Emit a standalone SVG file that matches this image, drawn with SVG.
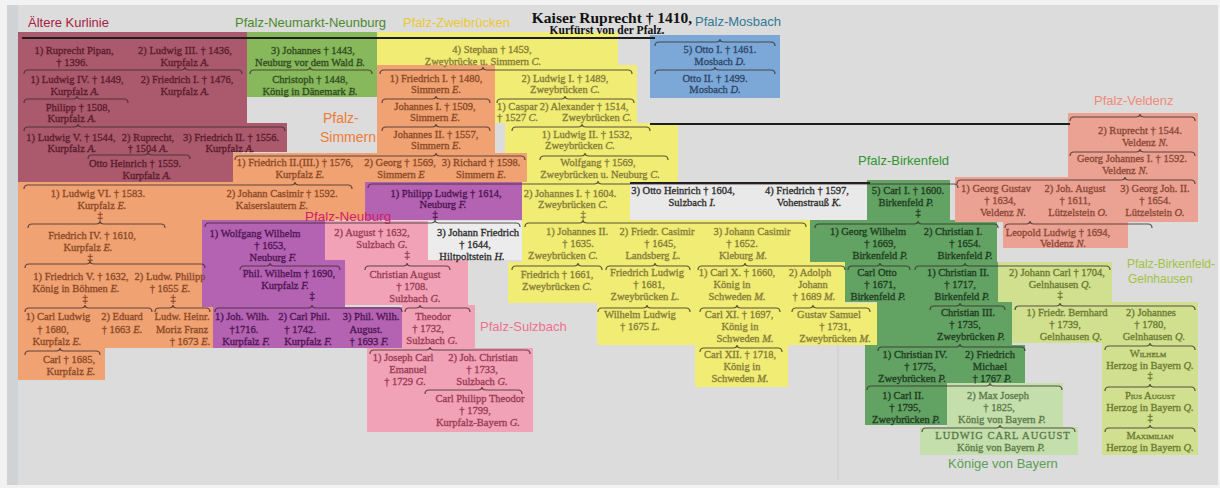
<svg xmlns="http://www.w3.org/2000/svg" width="1220" height="488" viewBox="0 0 1220 488">
<style>
.t{font-family:"Liberation Serif","Times New Roman",serif;font-size:10.5px;text-anchor:middle;stroke-width:.3}
.s{text-anchor:start}
.i{font-style:italic}
.lb{font-family:"Liberation Sans",Arial,sans-serif;font-size:13px}
.br{fill:none;stroke:#3a2c2c;stroke-width:1.2;stroke-opacity:.8}
.ln{stroke:#1e1e1e;stroke-width:1.8}
.cr{fill:#5a1a2c;stroke:#5a1a2c}.cg{fill:#2f4a1e;stroke:#2f4a1e}.cy{fill:#857a38;stroke:#857a38}.co{fill:#8a4826;stroke:#8a4826}.cb{fill:#2c4566;stroke:#2c4566}
.cm{fill:#4c1450;stroke:#4c1450}.cp{fill:#983a54;stroke:#983a54}.cw{fill:#2a2a2a;stroke:#2a2a2a}.cs{fill:#8a4636;stroke:#8a4636}.cd{fill:#1f3a1f;stroke:#1f3a1f}
.cl{fill:#6a7830;stroke:#6a7830}.ck{fill:#5a7848;stroke:#5a7848}
</style>
<rect width="1220" height="488" fill="#f2f2f2"/>
<rect x="7" y="5" width="1211" height="480" fill="#dcdcdc"/>
<rect x="7" y="5" width="11" height="480" fill="#cfd3d6"/>
<line x1="838" y1="345" x2="838" y2="480" stroke="#cbcbcb" stroke-width="1"/>
<g id="regions">
<polygon points="18,32 247,32 247,123 287,123 287,152 233,152 233,182 18,182" fill="#aa5a6c"/>
<rect x="247" y="32" width="130" height="65" fill="#88b85c"/>
<path d="M377,32H618V65H637V123H678V182H630V220H810V262H845V303H877V345H788V387H695V345H597V303H508V262H522V182H527V153H505V123H495V65H377Z" fill="#f0ec74"/>
<rect x="650" y="35" width="130" height="63" fill="#7ca8d8"/>
<path d="M377,65H495V153H527V182H365V220H202V307H213V348H105V380H18V182H233V153H377Z" fill="#f0a272"/>
<path d="M365,182H522V220H325V260H345V307H405V348H213V307H202V220H365Z" fill="#b462b2"/>
<path d="M325,221H428V260H468V305H475V348H533V432H367V348H402V305H345V260H325Z" fill="#f2a2b6"/>
<rect x="428" y="221" width="94" height="39" fill="#ececec"/>
<rect x="630" y="182" width="237" height="38" fill="#e9e9e9"/>
<path d="M867,180H950V220H997V262H998V302H1012V345H1025V383H947V425H865V345H877V302H845V262H810V220H867Z" fill="#62a263"/>
<path d="M998,262H1112V302H1198V455H1102V343H1012V302H998Z" fill="#d0e08e"/>
<path d="M947,383H1063V427H1078V455H920V427H947Z" fill="#c4deac"/>
<path d="M1068,113H1198V222H1128V248H1003V222H955V177H1068Z" fill="#eba292"/>
</g>
<g id="labels" class="lb">
<text x="28" y="27" fill="#a8203c">Ältere Kurlinie</text>
<text x="235" y="27" fill="#4a8a2a">Pfalz-Neumarkt-Neunburg</text>
<text x="403" y="27" fill="#ecc830">Pfalz-Zweibrücken</text>
<text x="695" y="26" fill="#2e7896">Pfalz-Mosbach</text>
<text x="1094" y="105" fill="#f08a78">Pfalz-Veldenz</text>
<text x="323" y="123" fill="#f07a30" font-size="14">Pfalz-</text>
<text x="320" y="142" fill="#f07a30" font-size="14">Simmern</text>
<text x="858" y="165" fill="#2e962e">Pfalz-Birkenfeld</text>
<text x="305" y="221" fill="#d0206a" font-size="13.5">Pfalz-Neuburg</text>
<text x="480" y="331" fill="#f07090">Pfalz-Sulzbach</text>
<text x="1127" y="268" fill="#a2c240" font-size="12">Pfalz-Birkenfeld-</text>
<text x="1128" y="283" fill="#a2c240" font-size="12">Gelnhausen</text>
<text x="948" y="468" fill="#5aa050">Könige von Bayern</text>
</g>
<g id="connectors">
<line class="ln" x1="22" y1="38" x2="655" y2="38"/>
<line class="ln" x1="650" y1="124" x2="1070" y2="124"/>
<line class="ln" x1="630" y1="183" x2="870" y2="183"/>
<path class="br" d="M655,46 q0,-4 4,-4 H716 q4,0 4,-3 q0,3 4,3 H771 q4,0 4,4"/>
<path class="br" d="M24,74 q0,-4 4,-4 H181 q4,0 4,-3 q0,3 4,3 H238 q4,0 4,4"/>
<path class="br" d="M24,103 q0,-4 4,-4 H73 q4,0 4,-3 q0,3 4,3 H124 q4,0 4,4"/>
<path class="br" d="M24,131 q0,-4 4,-4 H74 q4,0 4,-3 q0,3 4,3 H281 q4,0 4,4"/>
<path class="br" d="M88,159 q0,-4 4,-4 H144 q4,0 4,-3 q0,3 4,3 H186 q4,0 4,4"/>
<path class="br" d="M250,74 q0,-4 4,-4 H306 q4,0 4,-3 q0,3 4,3 H368 q4,0 4,4"/>
<path class="br" d="M380,74 q0,-4 4,-4 H479 q4,0 4,-3 q0,3 4,3 H628 q4,0 4,4"/>
<path class="br" d="M382,103 q0,-4 4,-4 H432 q4,0 4,-3 q0,3 4,3 H486 q4,0 4,4"/>
<path class="br" d="M497,103 q0,-4 4,-4 H561 q4,0 4,-3 q0,3 4,3 H630 q4,0 4,4"/>
<path class="br" d="M382,131 q0,-4 4,-4 H432 q4,0 4,-3 q0,3 4,3 H486 q4,0 4,4"/>
<path class="br" d="M512,131 q0,-4 4,-4 H578 q4,0 4,-3 q0,3 4,3 H646 q4,0 4,4"/>
<path class="br" d="M235,160 q0,-4 4,-4 H432 q4,0 4,-3 q0,3 4,3 H521 q4,0 4,4"/>
<path class="br" d="M540,160 q0,-4 4,-4 H581 q4,0 4,-3 q0,3 4,3 H664 q4,0 4,4"/>
<path class="br" d="M655,74 q0,-4 4,-4 H711 q4,0 4,-3 q0,3 4,3 H771 q4,0 4,4"/>
<path class="br" d="M24,189 q0,-4 4,-4 H291 q4,0 4,-3 q0,3 4,3 H348 q4,0 4,4"/>
<path class="br" d="M368,188 q0,-4 4,-4 H594 q4,0 4,-3 q0,3 4,3 H954 q4,0 4,4"/>
<path class="br" d="M1070,121 q0,-4 4,-4 H1136 q4,0 4,-3 q0,3 4,3 H1191 q4,0 4,4"/>
<path class="br" d="M1070,156 q0,-4 4,-4 H1136 q4,0 4,-3 q0,3 4,3 H1191 q4,0 4,4"/>
<path class="br" d="M957,184 q0,-4 4,-4 H1121 q4,0 4,-3 q0,3 4,3 H1191 q4,0 4,4"/>
<path class="br" d="M28,228 q0,-4 4,-4 H96 q4,0 4,-3 q0,3 4,3 H161 q4,0 4,4"/>
<path class="br" d="M205,227 q0,-4 4,-4 H431 q4,0 4,-3 q0,3 4,3 H516 q4,0 4,4"/>
<path class="br" d="M525,227 q0,-4 4,-4 H579 q4,0 4,-3 q0,3 4,3 H802 q4,0 4,4"/>
<path class="br" d="M815,228 q0,-4 4,-4 H914 q4,0 4,-3 q0,3 4,3 H994 q4,0 4,4"/>
<path class="br" d="M1005,228 q0,-4 4,-4 H1026 q4,0 4,-3 q0,3 4,3 H1148 q4,0 4,4"/>
<path class="br" d="M25,268 q0,-4 4,-4 H86 q4,0 4,-3 q0,3 4,3 H201 q4,0 4,4"/>
<path class="br" d="M240,270 q0,-4 4,-4 H266 q4,0 4,-3 q0,3 4,3 H336 q4,0 4,4"/>
<path class="br" d="M365,270 q0,-4 4,-4 H403 q4,0 4,-3 q0,3 4,3 H446 q4,0 4,4"/>
<path class="br" d="M512,270 q0,-4 4,-4 H574 q4,0 4,-3 q0,3 4,3 H598 q4,0 4,4"/>
<path class="br" d="M606,270 q0,-4 4,-4 H651 q4,0 4,-3 q0,3 4,3 H686 q4,0 4,4"/>
<path class="br" d="M698,270 q0,-4 4,-4 H741 q4,0 4,-3 q0,3 4,3 H841 q4,0 4,4"/>
<path class="br" d="M848,270 q0,-4 4,-4 H876 q4,0 4,-3 q0,3 4,3 H906 q4,0 4,4"/>
<path class="br" d="M915,270 q0,-4 4,-4 H961 q4,0 4,-3 q0,3 4,3 H1106 q4,0 4,4"/>
<path class="br" d="M25,312 q0,-4 4,-4 H81 q4,0 4,-3 q0,3 4,3 H148 q4,0 4,4"/>
<path class="br" d="M155,312 q0,-4 4,-4 H169 q4,0 4,-3 q0,3 4,3 H206 q4,0 4,4"/>
<path class="br" d="M215,312 q0,-4 4,-4 H308 q4,0 4,-3 q0,3 4,3 H398 q4,0 4,4"/>
<path class="br" d="M405,312 q0,-4 4,-4 H416 q4,0 4,-3 q0,3 4,3 H466 q4,0 4,4"/>
<path class="br" d="M598,312 q0,-4 4,-4 H643 q4,0 4,-3 q0,3 4,3 H686 q4,0 4,4"/>
<path class="br" d="M700,312 q0,-4 4,-4 H733 q4,0 4,-3 q0,3 4,3 H776 q4,0 4,4"/>
<path class="br" d="M792,312 q0,-4 4,-4 H809 q4,0 4,-3 q0,3 4,3 H866 q4,0 4,4"/>
<path class="br" d="M930,310 q0,-4 4,-4 H956 q4,0 4,-3 q0,3 4,3 H1001 q4,0 4,4"/>
<path class="br" d="M1015,310 q0,-4 4,-4 H1056 q4,0 4,-3 q0,3 4,3 H1191 q4,0 4,4"/>
<path class="br" d="M25,355 q0,-4 4,-4 H56 q4,0 4,-3 q0,3 4,3 H96 q4,0 4,4"/>
<path class="br" d="M370,354 q0,-4 4,-4 H426 q4,0 4,-3 q0,3 4,3 H526 q4,0 4,4"/>
<path class="br" d="M700,352 q0,-4 4,-4 H733 q4,0 4,-3 q0,3 4,3 H778 q4,0 4,4"/>
<path class="br" d="M878,351 q0,-4 4,-4 H956 q4,0 4,-3 q0,3 4,3 H1021 q4,0 4,4"/>
<path class="br" d="M1105,350 q0,-4 4,-4 H1146 q4,0 4,-3 q0,3 4,3 H1191 q4,0 4,4"/>
<path class="br" d="M425,394 q0,-4 4,-4 H478 q4,0 4,-3 q0,3 4,3 H518 q4,0 4,4"/>
<path class="br" d="M867,390 q0,-4 4,-4 H986 q4,0 4,-3 q0,3 4,3 H1058 q4,0 4,4"/>
<path class="br" d="M1105,391 q0,-4 4,-4 H1146 q4,0 4,-3 q0,3 4,3 H1191 q4,0 4,4"/>
<path class="br" d="M922,432 q0,-4 4,-4 H996 q4,0 4,-3 q0,3 4,3 H1071 q4,0 4,4"/>
<path class="br" d="M1105,432 q0,-4 4,-4 H1146 q4,0 4,-3 q0,3 4,3 H1191 q4,0 4,4"/>
</g>
<g id="n0" font-family="Liberation Serif,serif" font-weight="bold" text-anchor="middle" fill="#111">
<text x="612" y="23" font-size="15.5">Kaiser Ruprecht † 1410,</text>
<text x="607" y="34" font-size="11.5">Kurfürst von der Pfalz.</text>
</g>
<g class="t cr">
<g id="n1"><text x="74" y="54">1) Ruprecht Pipan,</text><text x="72" y="66">† 1396.</text></g>
<g id="n2"><text x="185" y="54">2) Ludwig III. † 1436,</text><text x="185" y="66">Kurpfalz <tspan class="i">A.</tspan></text></g>
<g id="n3"><text x="77" y="83">1) Ludwig IV. † 1449,</text><text x="75" y="95">Kurpfalz <tspan class="i">A.</tspan></text></g>
<g id="n4"><text x="187" y="83">2) Friedrich I. † 1476,</text><text x="185" y="95">Kurpfalz <tspan class="i">A.</tspan></text></g>
<g id="n5"><text x="78" y="111">Philipp † 1508,</text><text x="72" y="122">Kurpfalz <tspan class="i">A.</tspan></text></g>
<g id="n6"><text x="71" y="141">1) Ludwig V. † 1544,</text><text x="72" y="152">Kurpfalz <tspan class="i">A.</tspan></text></g>
<g id="n7"><text x="148" y="141">2) Ruprecht,</text><text x="148" y="152">† 1504 <tspan class="i">A.</tspan></text></g>
<g id="n8"><text x="231" y="141">3) Friedrich II. † 1556.</text><text x="230" y="152">Kurpfalz <tspan class="i">A.</tspan></text></g>
<g id="n9"><text x="135" y="167">Otto Heinrich † 1559.</text><text x="147" y="179">Kurpfalz <tspan class="i">A.</tspan></text></g>
</g>
<g class="t cg">
<g id="n10"><text x="313" y="54">3) Johannes † 1443,</text><text x="310" y="66">Neuburg vor dem Wald <tspan class="i">B.</tspan></text></g>
<g id="n11"><text x="310" y="83">Christoph † 1448,</text><text x="310" y="95">König in Dänemark <tspan class="i">B.</tspan></text></g>
</g>
<g class="t cy">
<g id="n12"><text x="492" y="53">4) Stephan † 1459,</text><text x="483" y="65">Zweybrücke u. Simmern <tspan class="i">C.</tspan></text></g>
<g id="n14"><text x="565" y="82">2) Ludwig I. † 1489,</text><text x="565" y="93">Zweybrücken <tspan class="i">C.</tspan></text></g>
<g id="n16"><text class="s" x="497" y="110">1) Caspar</text><text class="s" x="497" y="121">† 1527 <tspan class="i">C.</tspan></text></g>
<g id="n17"><text x="584" y="110">2) Alexander † 1514,</text><text x="597" y="121">Zweybrücken <tspan class="i">C.</tspan></text></g>
<g id="n19"><text x="587" y="138">1) Ludwig II. † 1532,</text><text x="580" y="149">Zweybrücken <tspan class="i">C.</tspan></text></g>
<g id="n23"><text x="598" y="166">Wolfgang † 1569,</text><text x="600" y="178">Zweybrücken u. Neuburg <tspan class="i">C.</tspan></text></g>
<g id="n31"><text x="570" y="197">2) Johannes I. † 1604.</text><text x="573" y="208">Zweybrücken <tspan class="i">C.</tspan></text><text x="583" y="218">‡</text></g>
<g id="n43"><text x="577" y="235">1) Johannes II.</text><text x="578" y="247">† 1635.</text><text x="563" y="259">Zweybrücken <tspan class="i">C.</tspan></text></g>
<g id="n44"><text x="657" y="235">2) Friedr. Casimir</text><text x="660" y="247">† 1645,</text><text x="653" y="259">Landsberg <tspan class="i">L.</tspan></text></g>
<g id="n45"><text x="752" y="235">3) Johann Casimir</text><text x="742" y="247">† 1652.</text><text x="743" y="259">Kleburg <tspan class="i">M.</tspan></text></g>
<g id="n52"><text x="557" y="278">Friedrich † 1661,</text><text x="557" y="290">Zweybrücken <tspan class="i">C.</tspan></text></g>
<g id="n53"><text x="647" y="276">Friedrich Ludwig</text><text x="649" y="288">† 1681,</text><text x="645" y="300">Zweybrücken <tspan class="i">L.</tspan></text></g>
<g id="n54"><text x="737" y="276">1) Carl X. † 1660,</text><text x="732" y="288">König in</text><text x="737" y="300">Schweden <tspan class="i">M.</tspan></text></g>
<g id="n55"><text x="810" y="276">2) Adolph</text><text x="813" y="288">Johann</text><text x="814" y="300">† 1689 <tspan class="i">M.</tspan></text></g>
<g id="n66"><text x="640" y="318">Wilhelm Ludwig</text><text x="640" y="330">† 1675 <tspan class="i">L.</tspan></text></g>
<g id="n67"><text x="739" y="318">Carl XI. † 1697,</text><text x="740" y="330">König in</text><text x="745" y="342">Schweden <tspan class="i">M.</tspan></text></g>
<g id="n68"><text x="829" y="318">Gustav Samuel</text><text x="835" y="330">† 1731,</text><text x="835" y="342">Zweybrücken <tspan class="i">M.</tspan></text></g>
<g id="n75"><text x="740" y="358">Carl XII. † 1718,</text><text x="742" y="370">König in</text><text x="740" y="382">Schweden <tspan class="i">M.</tspan></text></g>
</g>
<g class="t co">
<g id="n13"><text x="436" y="82">1) Friedrich I. † 1480,</text><text x="436" y="93">Simmern <tspan class="i">E.</tspan></text></g>
<g id="n15"><text x="435" y="110">Johannes I. † 1509,</text><text x="435" y="121">Simmern <tspan class="i">E.</tspan></text></g>
<g id="n18"><text x="436" y="138">Johannes II. † 1557,</text><text x="436" y="149">Simmern <tspan class="i">E.</tspan></text></g>
<g id="n20"><text x="295" y="166">1) Friedrich II.(III.) † 1576,</text><text x="300" y="178">Kurpfalz <tspan class="i">E.</tspan></text></g>
<g id="n21"><text x="400" y="166">2) Georg † 1569,</text><text x="401" y="178">Simmern <tspan class="i">E</tspan></text></g>
<g id="n22"><text x="481" y="166">3) Richard † 1598.</text><text x="481" y="178">Simmern <tspan class="i">E.</tspan></text></g>
<g id="n28"><text x="98" y="197">1) Ludwig VI. † 1583.</text><text x="102" y="209">Kurpfalz <tspan class="i">E.</tspan></text><text x="100" y="219">‡</text></g>
<g id="n29"><text x="282" y="197">2) Johann Casimir † 1592.</text><text x="272" y="209">Kaiserslautern <tspan class="i">E.</tspan></text></g>
<g id="n39"><text x="92" y="239">Friedrich IV. † 1610,</text><text x="88" y="251">Kurpfalz <tspan class="i">E.</tspan></text><text x="90" y="261">‡</text></g>
<g id="n48"><text x="81" y="280">1) Friedrich V. † 1632,</text><text x="76" y="292">König in Böhmen <tspan class="i">E.</tspan></text><text x="85" y="302">‡</text></g>
<g id="n49"><text x="170" y="280">2) Ludw. Philipp</text><text x="170" y="292">† 1655 <tspan class="i">E.</tspan></text><text x="173" y="302">‡</text></g>
<g id="n59"><text x="58" y="320">1) Carl Ludwig</text><text x="53" y="333">† 1680,</text><text x="57" y="345">Kurpfalz <tspan class="i">E.</tspan></text></g>
<g id="n60"><text x="122" y="320">2) Eduard</text><text x="122" y="333">† 1663 <tspan class="i">E.</tspan></text></g>
<g id="n61"><text x="182" y="320">Ludw. Heinr.</text><text x="182" y="333">Moriz Franz</text><text x="190" y="345">† 1673 <tspan class="i">E.</tspan></text></g>
<g id="n72"><text x="69" y="363">Carl † 1685,</text><text x="71" y="375">Kurpfalz <tspan class="i">E.</tspan></text></g>
</g>
<g class="t cb">
<g id="n24"><text x="720" y="53">5) Otto I. † 1461.</text><text x="720" y="65">Mosbach <tspan class="i">D.</tspan></text></g>
<g id="n25"><text x="715" y="82">Otto II. † 1499.</text><text x="715" y="93">Mosbach <tspan class="i">D.</tspan></text></g>
</g>
<g class="t cs">
<g id="n26"><text x="1140" y="134">2) Ruprecht † 1544.</text><text x="1145" y="146">Veldenz <tspan class="i">N.</tspan></text></g>
<g id="n27"><text x="1132" y="162">Georg Johannes I. † 1592.</text><text x="1125" y="174">Veldenz <tspan class="i">N.</tspan></text></g>
<g id="n35"><text x="996" y="192">1) Georg Gustav</text><text x="1000" y="204">† 1634,</text><text x="1003" y="216">Veldenz <tspan class="i">N.</tspan></text></g>
<g id="n36"><text x="1075" y="192">2) Joh. August</text><text x="1075" y="204">† 1611,</text><text x="1078" y="216">Lützelstein <tspan class="i">O.</tspan></text></g>
<g id="n37"><text x="1155" y="192">3) Georg Joh. II.</text><text x="1155" y="204">† 1654.</text><text x="1155" y="216">Lützelstein <tspan class="i">O.</tspan></text></g>
<g id="n38"><text x="1058" y="236">Leopold Ludwig † 1694,</text><text x="1063" y="247">Veldenz <tspan class="i">N.</tspan></text></g>
</g>
<g class="t cm">
<g id="n30"><text x="446" y="197">1) Philipp Ludwig † 1614,</text><text x="443" y="208">Neuburg <tspan class="i">F.</tspan></text><text x="435" y="218">‡</text></g>
<g id="n40"><text x="255" y="237">1) Wolfgang Wilhelm</text><text x="270" y="249">† 1653,</text><text x="273" y="261">Neuburg <tspan class="i">F.</tspan></text></g>
<g id="n50"><text x="289" y="277">Phil. Wilhelm † 1690,</text><text x="285" y="289">Kurpfalz <tspan class="i">F.</tspan></text><text x="312" y="299">‡</text></g>
<g id="n62"><text x="242" y="320">1) Joh. Wilh.</text><text x="244" y="333">†1716.</text><text x="246" y="345">Kurpfalz <tspan class="i">F.</tspan></text></g>
<g id="n63"><text x="304" y="320">2) Carl Phil.</text><text x="300" y="333">† 1742.</text><text x="308" y="345">Kurpfalz <tspan class="i">F.</tspan></text></g>
<g id="n64"><text x="371" y="320">3) Phil. Wilh.</text><text x="366" y="333">August.</text><text x="369" y="345">† 1693 <tspan class="i">F.</tspan></text></g>
</g>
<g class="t cp">
<g id="n41"><text x="372" y="236">2) August † 1632,</text><text x="382" y="248">Sulzbach <tspan class="i">G.</tspan></text><text x="407" y="258">‡</text></g>
<g id="n51"><text x="405" y="278">Christian August</text><text x="412" y="290">† 1708.</text><text x="415" y="302">Sulzbach <tspan class="i">G.</tspan></text></g>
<g id="n65"><text x="433" y="320">Theodor</text><text x="428" y="332">† 1732,</text><text x="432" y="344">Sulzbach <tspan class="i">G.</tspan></text></g>
<g id="n73"><text x="403" y="361">1) Joseph Carl</text><text x="408" y="373">Emanuel</text><text x="405" y="385">† 1729 <tspan class="i">G.</tspan></text></g>
<g id="n74"><text x="483" y="361">2) Joh. Christian</text><text x="482" y="373">† 1733,</text><text x="482" y="385">Sulzbach <tspan class="i">G.</tspan></text></g>
<g id="n82"><text x="480" y="402">Carl Philipp Theodor</text><text x="475" y="414">† 1799,</text><text x="478" y="426">Kurpfalz-Bayern <tspan class="i">G.</tspan></text></g>
</g>
<g class="t cw">
<g id="n42"><text x="478" y="236">3) Johann Friedrich</text><text x="475" y="248">† 1644,</text><text x="472" y="260">Hiltpoltstein <tspan class="i">H.</tspan></text></g>
<g id="n32"><text x="683" y="194">3) Otto Heinrich † 1604,</text><text x="692" y="206">Sulzbach <tspan class="i">I.</tspan></text></g>
<g id="n33"><text x="807" y="194">4) Friedrich † 1597,</text><text x="809" y="206">Vohenstrauß <tspan class="i">K.</tspan></text></g>
</g>
<g class="t cd">
<g id="n34"><text x="908" y="194">5) Carl I. † 1600.</text><text x="906" y="206">Birkenfeld <tspan class="i">P.</tspan></text><text x="918" y="216">‡</text></g>
<g id="n46"><text x="868" y="235">1) Georg Wilhelm</text><text x="880" y="247">† 1669,</text><text x="880" y="259">Birkenfeld <tspan class="i">P.</tspan></text></g>
<g id="n47"><text x="953" y="235">2) Christian I.</text><text x="965" y="247">† 1654.</text><text x="965" y="259">Birkenfeld <tspan class="i">P.</tspan></text></g>
<g id="n56"><text x="877" y="276">Carl Otto</text><text x="880" y="288">† 1671,</text><text x="878" y="300">Birkenfeld <tspan class="i">P.</tspan></text></g>
<g id="n57"><text x="958" y="276">1) Christian II.</text><text x="960" y="288">† 1717,</text><text x="962" y="300">Birkenfeld <tspan class="i">P.</tspan></text></g>
<g id="n69"><text x="968" y="316">Christian III.</text><text x="965" y="328">† 1735,</text><text x="971" y="340">Zweybrücken <tspan class="i">P.</tspan></text></g>
<g id="n76"><text x="915" y="358">1) Christian IV.</text><text x="920" y="370">† 1775,</text><text x="912" y="382">Zweybrücken <tspan class="i">P.</tspan></text></g>
<g id="n77"><text x="990" y="358">2) Friedrich</text><text x="990" y="370">Michael</text><text x="992" y="382">† 1767 <tspan class="i">P.</tspan></text></g>
<g id="n79"><text x="903" y="399">1) Carl II.</text><text x="905" y="411">† 1795,</text><text x="906" y="423">Zweybrücken <tspan class="i">P.</tspan></text></g>
</g>
<g class="t cl">
<g id="n58"><text x="1057" y="276">2) Johann Carl † 1704,</text><text x="1060" y="288">Gelnhausen <tspan class="i">Q.</tspan></text><text x="1060" y="298">‡</text></g>
<g id="n70"><text x="1067" y="316">1) Friedr. Bernhard</text><text x="1065" y="328">† 1739,</text><text x="1071" y="340">Gelnhausen <tspan class="i">Q.</tspan></text></g>
<g id="n71"><text x="1151" y="316">2) Johannes</text><text x="1150" y="328">† 1780,</text><text x="1154" y="340">Gelnhausen <tspan class="i">Q.</tspan></text></g>
<g id="n78"><text x="1148" y="357" font-variant="small-caps">Wilhelm</text><text x="1150" y="369">Herzog in Bayern <tspan class="i">Q.</tspan></text><text x="1150" y="379">‡</text></g>
<g id="n81"><text x="1150" y="399" font-variant="small-caps">Pius August</text><text x="1150" y="411">Herzog in Bayern <tspan class="i">Q.</tspan></text><text x="1150" y="421">‡</text></g>
<g id="n84"><text x="1150" y="439" font-variant="small-caps">Maximilian</text><text x="1150" y="451">Herzog in Bayern <tspan class="i">Q.</tspan></text></g>
</g>
<g class="t ck">
<g id="n80"><text x="998" y="399">2) Max Joseph</text><text x="999" y="411">† 1825,</text><text x="1002" y="423">König von Bayern <tspan class="i">P.</tspan></text></g>
<g id="n83"><text x="1003" y="439" letter-spacing="1">LUDWIG CARL AUGUST</text><text x="1001" y="451">König von Bayern <tspan class="i">P.</tspan></text></g>
</g>
</svg>
